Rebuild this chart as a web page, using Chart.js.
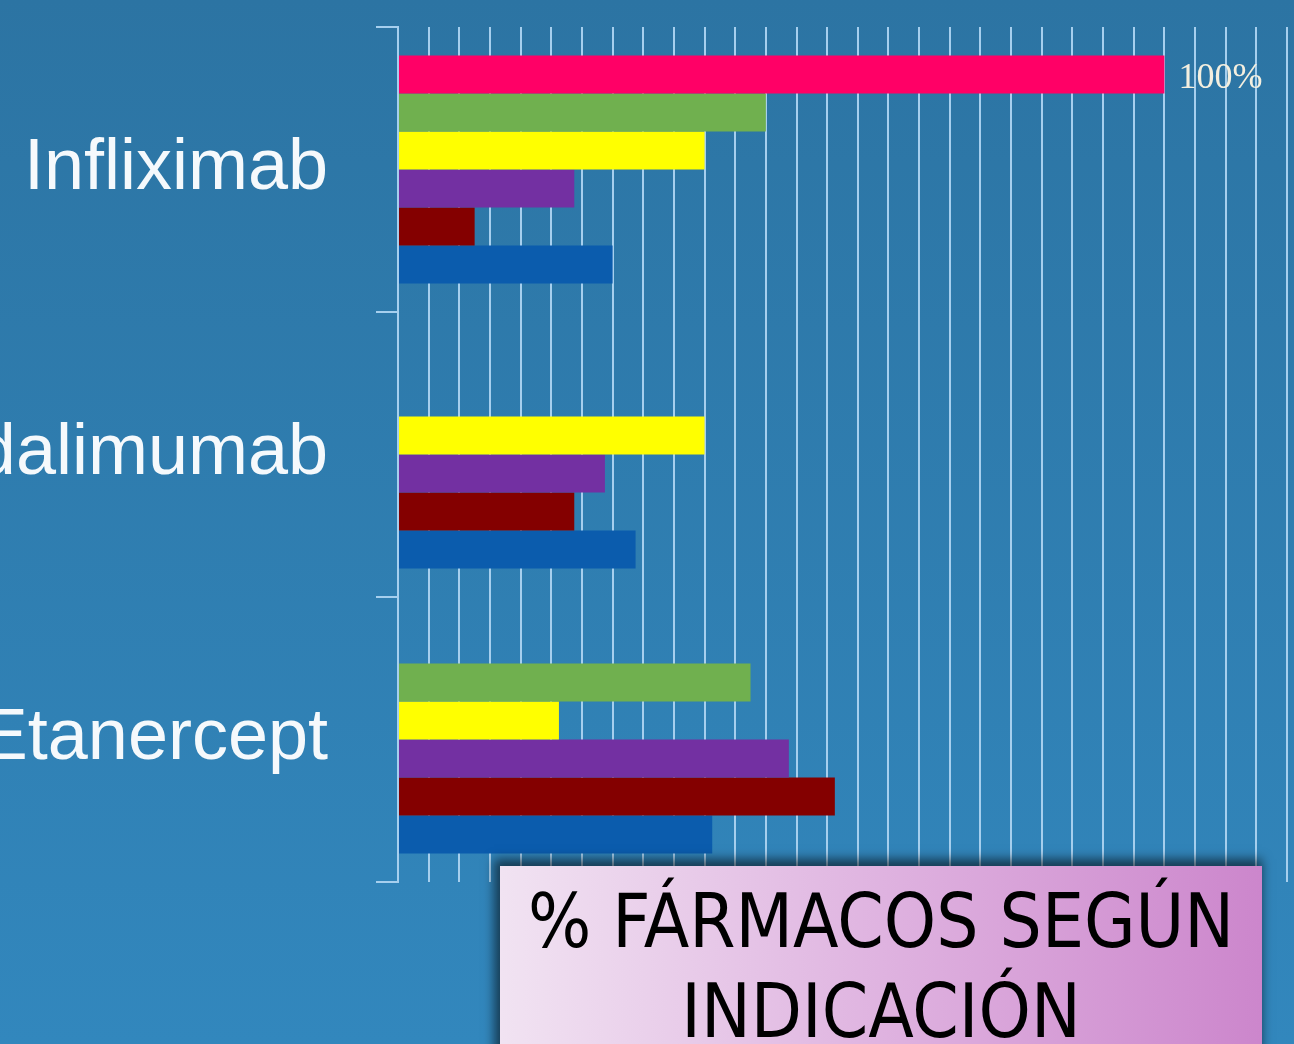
<!DOCTYPE html>
<html>
<head>
<meta charset="utf-8">
<script src="https://cdn.jsdelivr.net/npm/chart.js@4.4.1/dist/chart.umd.min.js"></script>
<style>
  html, body { margin: 0; padding: 0; }
  body {
    width: 1294px; height: 1044px; overflow: hidden; position: relative;
    background: linear-gradient(180deg, #2c74a3 0%, #3287bd 100%);
  }
  #wrap { position: absolute; left: 0; top: 0; width: 1294px; height: 1044px; }
  #title {
    position: absolute; left: 500px; top: 866px; width: 762px; height: 220px;
    background: linear-gradient(90deg, #f1e3f2 0%, #dfb3e0 50%, #cc86cc 100%);
    box-shadow: -3px -4px 10px 3px rgba(0, 0, 0, 0.55);
    font-family: "DejaVu Sans Condensed", "DejaVu Sans", sans-serif;
    font-stretch: condensed;
    font-size: 74px; line-height: 90px; color: #000;
    text-align: center; padding-top: 10px; box-sizing: border-box;
  }
</style>
</head>
<body>
<div id="wrap"><canvas id="chart"></canvas></div>
<div id="title">% FÁRMACOS SEGÚN<br>INDICACIÓN</div>
<script>
const drugs = ["Infliximab", "Adalimumab", "Etanercept"];

// one array per coloured series, in drug order
const pinkValues = [100, 0, 0];
const greenValues = [48, 0, 46];
const yellowValues = [40, 40, 21];
const purpleValues = [23, 27, 51];
const darkRedValues = [10, 23, 57];
const blueValues = [28, 31, 41];

const seriesColors = ["#ff0066", "#70b04f", "#ffff00", "#7330a2", "#840000", "#0b5cad"];
const gridColor = "#a6cfee";

const endLabel = {
  id: "endLabel",
  afterDatasetsDraw(chart) {
    const ctx = chart.ctx;
    chart.data.datasets.forEach((ds, i) => {
      const meta = chart.getDatasetMeta(i);
      ds.data.forEach((v, j) => {
        if (v !== 100) return;
        const bar = meta.data[j];
        ctx.save();
        ctx.font = "36px 'Liberation Serif', serif";
        ctx.fillStyle = "#f4efdf";
        ctx.textBaseline = "middle";
        ctx.fillText(v + "%", bar.x + 14, bar.y + 4);
        ctx.restore();
      });
    });
  }
};

const series = [pinkValues, greenValues, yellowValues, purpleValues, darkRedValues, blueValues];

new Chart(document.getElementById("chart"), {
  type: "bar",
  data: {
    labels: drugs,
    datasets: series.map((vals, i) => ({
      label: "Serie " + (i + 1),
      data: [...vals],
      backgroundColor: seriesColors[i],
      borderWidth: 0,
      barPercentage: 1,
      categoryPercentage: 0.8
    }))
  },
  options: {
    indexAxis: "y",
    responsive: true,
    maintainAspectRatio: false,
    animation: false,
    layout: { padding: { top: 27, right: 7, bottom: 162, left: 0 } },
    plugins: {
      legend: false,
      tooltip: { enabled: false }
    },
    scales: {
      x: {
        min: 0,
        max: 116,
        ticks: { display: false, stepSize: 4 },
        grid: { color: gridColor, lineWidth: 2, drawTicks: false },
        border: { display: false }
      },
      y: {
        afterFit(scale) {
          scale.width = 398;
          scale.paddingTop = 0;
          scale.paddingBottom = 0;
        },
        ticks: {
          color: "#f5f9fc",
          font: { family: "'Liberation Sans', Arial, sans-serif", size: 72 },
          padding: 48
        },
        grid: { drawOnChartArea: false, color: gridColor, lineWidth: 2, tickLength: 22 },
        border: { display: true, color: gridColor, width: 2 }
      }
    }
  },
  plugins: [endLabel]
});
</script>
</body>
</html>
